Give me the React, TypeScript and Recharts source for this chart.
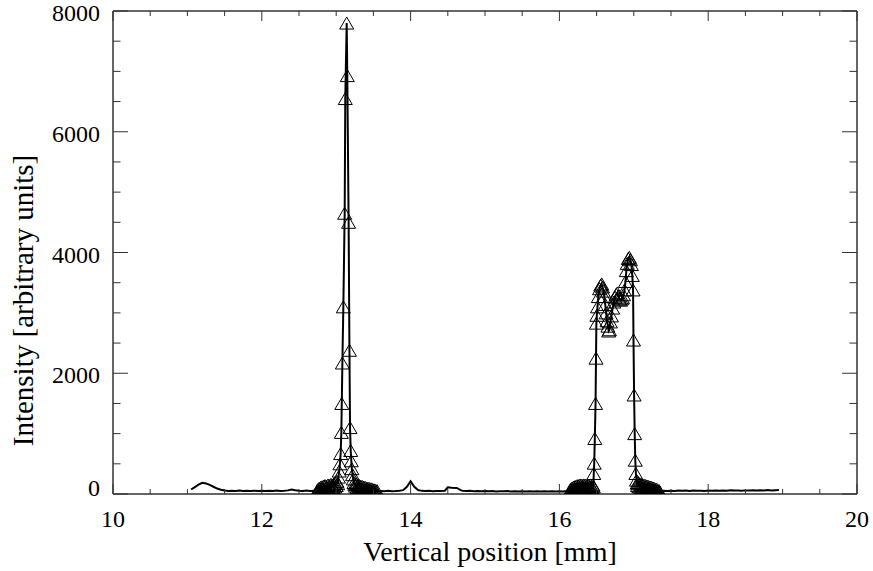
import React from 'react';
import { LineChart, Line, XAxis, YAxis, Label } from 'recharts';

const FONT = '"Liberation Serif", "Times New Roman", serif';
const AXIS = '#333';

// tick values (minor every 0.5 mm / 500 units, labels on the majors)
const xTicks = [10, 10.5, 11, 11.5, 12, 12.5, 13, 13.5, 14, 14.5, 15, 15.5, 16, 16.5, 17, 17.5, 18, 18.5, 19, 19.5, 20];
const xLabels = [10, 12, 14, 16, 18, 20];
const yTicks = [0, 500, 1000, 1500, 2000, 2500, 3000, 3500, 4000, 4500, 5000, 5500, 6000, 6500, 7000, 7500, 8000];
const yLabels = [0, 2000, 4000, 6000, 8000];

// [vertical position (mm), intensity]
const baseWest: [number, number][] = [
  [11.05, 75], [11.1, 115], [11.15, 155], [11.2, 185], [11.25, 175], [11.3, 150], [11.35, 120],
  [11.4, 90], [11.45, 70], [11.5, 58], [11.55, 50], [11.6, 55], [11.65, 49], [11.7, 56],
  [11.75, 50], [11.8, 54], [11.85, 48], [11.9, 55], [11.95, 50], [12.0, 54], [12.05, 49],
  [12.1, 53], [12.15, 48], [12.2, 56], [12.25, 50], [12.3, 54], [12.35, 60], [12.4, 74],
  [12.45, 62], [12.5, 55], [12.55, 50], [12.6, 56], [12.65, 50], [12.7, 55],
];

const scanA: [number, number][] = [
  [12.74, 30], [12.75, 70], [12.76, 45], [12.77, 95], [12.78, 55], [12.79, 110], [12.8, 60],
  [12.81, 120], [12.82, 75], [12.83, 130], [12.84, 65], [12.85, 140], [12.86, 85], [12.87, 125],
  [12.88, 90], [12.89, 150], [12.9, 80], [12.91, 140], [12.92, 100], [12.93, 160], [12.94, 95],
  [12.95, 150], [12.96, 110], [12.97, 170], [12.98, 120], [12.99, 180], [13.0, 140], [13.01, 210],
  [13.02, 170], [13.03, 280], [13.04, 380], [13.05, 500], [13.06, 670], [13.069, 1020],
  [13.075, 1500], [13.083, 2170], [13.096, 3100], [13.114, 4650], [13.122, 6550], [13.141, 7800],
  [13.149, 6930], [13.167, 4500], [13.178, 2380], [13.186, 1100], [13.195, 720], [13.203, 550],
  [13.21, 420], [13.22, 320], [13.23, 250], [13.24, 190], [13.25, 160], [13.26, 130], [13.27, 170],
  [13.28, 110], [13.29, 150], [13.3, 95], [13.31, 140], [13.32, 85], [13.33, 130], [13.34, 75],
  [13.35, 125], [13.36, 70], [13.37, 115], [13.38, 65], [13.39, 110], [13.4, 60], [13.41, 100],
  [13.42, 55], [13.43, 95], [13.44, 50], [13.45, 90], [13.46, 45], [13.47, 85], [13.48, 40],
  [13.49, 75], [13.5, 40], [13.51, 70], [13.52, 35], [13.53, 60], [13.54, 40], [13.55, 55],
];

const baseMid: [number, number][] = [
  [13.6, 50], [13.65, 45], [13.7, 52], [13.75, 47], [13.8, 50], [13.85, 55], [13.9, 64],
  [13.95, 120], [14.0, 210], [14.05, 120], [14.1, 65], [14.15, 52], [14.2, 48], [14.25, 53],
  [14.3, 46], [14.35, 51], [14.4, 48], [14.46, 55], [14.5, 110], [14.55, 102], [14.62, 100],
  [14.68, 60], [14.7, 55], [14.75, 48], [14.8, 52], [14.85, 46], [14.9, 50], [14.95, 44],
  [15.0, 49], [15.05, 45], [15.1, 50], [15.15, 43], [15.2, 47], [15.25, 44], [15.3, 48],
  [15.35, 42], [15.4, 46], [15.45, 43], [15.5, 47], [15.55, 41], [15.6, 45], [15.65, 42],
  [15.7, 44], [15.75, 40], [15.8, 45], [15.85, 41], [15.9, 44], [15.95, 40], [16.0, 46],
  [16.05, 42], [16.1, 48],
];

const scanB: [number, number][] = [
  [16.14, 35], [16.15, 80], [16.16, 50], [16.17, 100], [16.18, 60], [16.19, 115], [16.2, 70],
  [16.21, 125], [16.22, 80], [16.23, 135], [16.24, 85], [16.25, 140], [16.26, 90], [16.27, 145],
  [16.28, 95], [16.29, 150], [16.3, 100], [16.31, 140], [16.32, 105], [16.33, 150], [16.34, 100],
  [16.35, 145], [16.36, 95], [16.37, 140], [16.38, 100], [16.39, 135], [16.4, 95], [16.41, 130],
  [16.42, 90], [16.43, 125], [16.44, 110], [16.45, 150], [16.456, 120], [16.462, 340],
  [16.468, 510], [16.476, 920], [16.486, 1500], [16.492, 2250], [16.497, 2830], [16.503, 2960],
  [16.512, 3100], [16.524, 3270], [16.54, 3400], [16.556, 3460], [16.568, 3480], [16.58, 3430],
  [16.592, 3360], [16.604, 3270], [16.616, 3140], [16.628, 3000], [16.64, 2870], [16.652, 2780],
  [16.662, 2700], [16.672, 2720], [16.686, 2850], [16.7, 2950], [16.716, 3080], [16.732, 3180],
  [16.748, 3260], [16.764, 3310], [16.778, 3330], [16.792, 3280], [16.806, 3230], [16.82, 3210],
  [16.834, 3230], [16.848, 3250], [16.862, 3300], [16.876, 3380], [16.888, 3520], [16.9, 3700],
  [16.912, 3820], [16.926, 3900], [16.94, 3920], [16.955, 3880], [16.968, 3800], [16.98, 3620],
  [16.99, 3380], [16.996, 2550], [17.004, 1640], [17.012, 1000], [17.02, 560], [17.028, 340],
  [17.036, 230], [17.045, 180], [17.05, 140], [17.06, 190], [17.07, 120], [17.08, 170],
  [17.09, 110], [17.1, 160], [17.11, 100], [17.12, 150], [17.13, 95], [17.14, 145], [17.15, 90],
  [17.16, 140], [17.17, 85], [17.18, 130], [17.19, 80], [17.2, 125], [17.21, 75], [17.22, 115],
  [17.23, 70], [17.24, 110], [17.25, 65], [17.26, 100], [17.27, 60], [17.28, 90], [17.29, 50],
  [17.3, 80], [17.31, 45], [17.32, 70], [17.33, 40], [17.34, 55], [17.35, 35],
];

const baseEast: [number, number][] = [
  [17.4, 55], [17.45, 50], [17.5, 54], [17.55, 49], [17.6, 58], [17.65, 52], [17.7, 56],
  [17.75, 51], [17.8, 57], [17.85, 52], [17.9, 55], [17.95, 50], [18.0, 58], [18.05, 53],
  [18.1, 57], [18.15, 54], [18.2, 59], [18.25, 55], [18.3, 61], [18.35, 56], [18.4, 59],
  [18.45, 55], [18.5, 60], [18.55, 57], [18.6, 63], [18.65, 58], [18.7, 62], [18.75, 59],
  [18.8, 65], [18.85, 60], [18.9, 64], [18.95, 66],
];

const toPoints = (seg: [number, number][]) => seg.map(([x, v]) => ({ x, v }));
const trace = toPoints([...baseWest, ...scanA, ...baseMid, ...scanB, ...baseEast]);
const scans = toPoints([...scanA, ...scanB]);

const Triangle = (p: any) => {
  const { cx, cy, index } = p;
  if (cx == null || cy == null) return <g key={index} />;
  return (
    <polygon
      key={index}
      points={`${cx - 7},${cy + 6} ${cx},${cy - 6} ${cx + 7},${cy + 6}`}
      fill="none"
      stroke="#000"
      strokeWidth={1}
    />
  );
};

const BottomTick = (p: any) => {
  const { x, y, payload } = p;
  const major = xLabels.includes(payload.value);
  return (
    <g>
      <line x1={x} y1={y} x2={x} y2={y - (major ? 10 : 5)} stroke={AXIS} />
      {major && (
        <text x={x} y={y + 33} textAnchor="middle" fontSize={24} fontFamily={FONT} fill="#000">
          {payload.value}
        </text>
      )}
    </g>
  );
};

const TopTick = (p: any) => {
  const { x, y, payload } = p;
  const major = xLabels.includes(payload.value);
  return <line x1={x} y1={y} x2={x} y2={y + (major ? 10 : 5)} stroke={AXIS} />;
};

const LeftTick = (p: any) => {
  const { x, y, payload } = p;
  const major = yLabels.includes(payload.value);
  return (
    <g>
      <line x1={x} y1={y} x2={x + (major ? 15 : 7.5)} y2={y} stroke={AXIS} />
      {major && (
        <text x={x - 13} y={y + (payload.value === 0 ? 1.5 : 10)} textAnchor="end" fontSize={24} fontFamily={FONT} fill="#000">
          {payload.value}
        </text>
      )}
    </g>
  );
};

const RightTick = (p: any) => {
  const { x, y, payload } = p;
  const major = yLabels.includes(payload.value);
  return <line x1={x} y1={y} x2={x - (major ? 15 : 7.5)} y2={y} stroke={AXIS} />;
};

const XTitle = (p: any) => {
  const vb = p.viewBox;
  return (
    <text x={vb.x + vb.width / 2 + 5} y={vb.y + 67} textAnchor="middle" fontSize={28} fontFamily={FONT} fill="#000">
      Vertical position [mm]
    </text>
  );
};

const YTitle = (p: any) => {
  const vb = p.viewBox;
  const cx = 33;
  const cy = vb.y + vb.height / 2 + 48;
  return (
    <text x={cx} y={cy} transform={`rotate(-90, ${cx}, ${cy})`} textAnchor="middle" fontSize={29} fontFamily={FONT} fill="#000">
      Intensity [arbitrary units]
    </text>
  );
};

export default function App() {
  return (
    <div style={{ position: 'absolute', left: 0, top: 0, background: '#fff' }}>
      <LineChart width={873} height={571} margin={{ top: 10, right: 15, bottom: 0, left: 0 }}>
        <XAxis
          dataKey="x"
          type="number"
          domain={[10, 20]}
          ticks={xTicks}
          interval={0}
          allowDataOverflow
          tick={BottomTick}
          tickLine={false}
          tickSize={0}
          tickMargin={0}
          height={77}
          axisLine={{ stroke: AXIS, strokeWidth: 1.5 }}
        >
          <Label content={XTitle} />
        </XAxis>
        <XAxis
          xAxisId="top"
          orientation="top"
          dataKey="x"
          type="number"
          domain={[10, 20]}
          ticks={xTicks}
          interval={0}
          allowDataOverflow
          tick={TopTick}
          tickLine={false}
          tickSize={0}
          tickMargin={0}
          height={1}
          axisLine={{ stroke: AXIS, strokeWidth: 1.5 }}
        />
        <YAxis
          type="number"
          domain={[0, 8000]}
          ticks={yTicks}
          interval={0}
          allowDataOverflow
          tick={LeftTick}
          tickLine={false}
          tickSize={0}
          tickMargin={0}
          width={113}
          axisLine={{ stroke: AXIS, strokeWidth: 1.5 }}
        >
          <Label content={YTitle} />
        </YAxis>
        <YAxis
          yAxisId="right"
          orientation="right"
          type="number"
          domain={[0, 8000]}
          ticks={yTicks}
          interval={0}
          allowDataOverflow
          tick={RightTick}
          tickLine={false}
          tickSize={0}
          tickMargin={0}
          width={1}
          axisLine={{ stroke: AXIS, strokeWidth: 1.5 }}
        />
        <Line
          data={trace}
          dataKey="v"
          type="linear"
          stroke="#000"
          strokeWidth={2}
          dot={false}
          activeDot={false}
          isAnimationActive={false}
        />
        <Line
          data={scans}
          dataKey="v"
          type="linear"
          stroke="none"
          dot={Triangle}
          activeDot={false}
          isAnimationActive={false}
        />
      </LineChart>
    </div>
  );
}
